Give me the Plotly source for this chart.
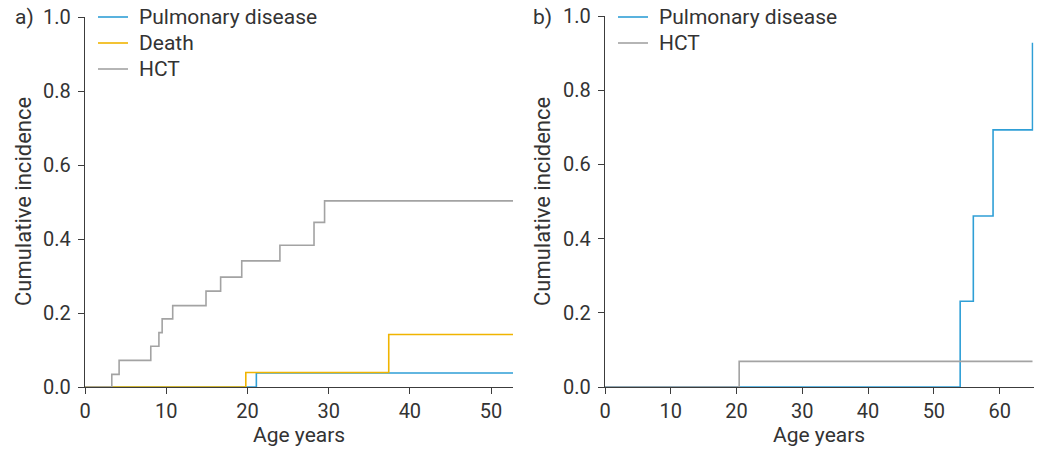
import plotly.graph_objects as go

# ---- data ----
# Panel a
a_pulm_x = [0, 21.1, 52.7]
a_pulm_y = [0, 0.038, 0.038]
a_death_x = [0, 19.8, 37.4, 52.7]
a_death_y = [0, 0.039, 0.142, 0.142]
a_hct_x = [0, 3.3, 4.2, 8.1, 9.1, 9.5, 10.8, 14.9, 16.7, 19.3, 24.0, 28.2, 29.5, 52.7]
a_hct_y = [0, 0.034, 0.072, 0.110, 0.147, 0.184, 0.220, 0.259, 0.297, 0.341, 0.383, 0.445, 0.503, 0.503]
# Panel b
b_pulm_x = [0, 54.0, 56.0, 59.0, 65.0]
b_pulm_y = [0, 0.231, 0.461, 0.693, 0.928]
b_hct_x = [0, 20.4, 65.0]
b_hct_y = [0, 0.069, 0.069]

series_names_a = ["Pulmonary disease", "Death", "HCT"]
series_names_b = ["Pulmonary disease", "HCT"]
x_ticks_a = [0, 10, 20, 30, 40, 50]
x_ticks_b = [0, 10, 20, 30, 40, 50, 60]
y_ticks = [0, 0.2, 0.4, 0.6, 0.8, 1.0]
x_title = "Age years"
y_title = "Cumulative incidence"
panel_labels = ["a)", "b)"]

BLUE = "#2f9fd6"
ORANGE = "#f0b400"
GRAY = "#a3a3a3"
AXIS = "#3c3c3c"
TEXT = "#333333"
FONT = "Roboto"
W, H = 1041, 451
TICK_SIZE = 20
TEXT_SIZE = 21

fig = go.Figure()

def add(x, y, name, color, xa, ya):
    fig.add_trace(go.Scatter(x=x, y=y, mode="lines", line=dict(color=color, width=1.6, shape="hv"),
                             name=name, xaxis=xa, yaxis=ya, showlegend=False))

colors_a = [BLUE, ORANGE, GRAY]
colors_b = [BLUE, GRAY]
add(a_pulm_x, a_pulm_y, series_names_a[0], colors_a[0], "x", "y")
add(a_death_x, a_death_y, series_names_a[1], colors_a[1], "x", "y")
add(a_hct_x, a_hct_y, series_names_a[2], colors_a[2], "x", "y")
add(b_pulm_x, b_pulm_y, series_names_b[0], colors_b[0], "x2", "y2")
add(b_hct_x, b_hct_y, series_names_b[1], colors_b[1], "x2", "y2")

def px_x(p):
    return p / W

def px_y(p):
    return 1 - p / H

common_x = dict(showgrid=False, zeroline=False, showline=True, linecolor=AXIS, linewidth=1.3,
                ticks="outside", ticklen=6, tickcolor=AXIS, tickwidth=1.3, automargin=False,
                tickfont=dict(family=FONT, size=TICK_SIZE, color=TEXT), layer="below traces")
common_y = dict(showgrid=False, zeroline=False, showline=True, linecolor=AXIS, linewidth=1.3,
                ticks="outside", ticklen=6, tickcolor=AXIS, tickwidth=1.3, range=[0, 1],
                tickvals=y_ticks, tickformat=".1f", layer="below traces", automargin=False,
                ticklabelstandoff=3,
                tickfont=dict(family=FONT, size=TICK_SIZE, color=TEXT))

def txt(text, x, y, angle=0, size=TEXT_SIZE, anchor="center"):
    return dict(text=text, x=px_x(x), y=px_y(y), xref="paper", yref="paper", showarrow=False,
                textangle=angle, font=dict(family=FONT, size=size, color=TEXT),
                xanchor=anchor, yanchor="middle")

annotations = [
    txt(panel_labels[0], 24, 17),
    txt(panel_labels[1], 542.5, 17),
    txt(x_title, 299, 435),
    txt(x_title, 818.5, 435),
    txt(y_title, 23, 202, -90, size=22),
    txt(y_title, 542, 202, -90, size=22),
]
shapes = []

# manual legends (line sample + label)
def legend(names, colors, x0, y0, step=26):
    for i, (n, c) in enumerate(zip(names, colors)):
        yy = y0 + i * step
        shapes.append(dict(type="line", xref="paper", yref="paper", x0=px_x(x0), x1=px_x(x0 + 30),
                           y0=px_y(yy), y1=px_y(yy), line=dict(color=c, width=1.6)))
        annotations.append(txt(n, x0 + 39, yy, anchor="left"))

legend(series_names_a, colors_a, 98, 17)
legend(series_names_b, colors_b, 618, 17)

fig.update_layout(
    width=W, height=H,
    margin=dict(l=0, r=0, t=0, b=0),
    paper_bgcolor="white", plot_bgcolor="white",
    xaxis=dict(common_x, domain=[px_x(85), px_x(513)], range=[0, 52.7], tickvals=x_ticks_a, anchor="y"),
    yaxis=dict(common_y, domain=[px_y(387), px_y(17)], anchor="x"),
    xaxis2=dict(common_x, domain=[px_x(605), px_x(1033.5)], range=[0, 65.15], tickvals=x_ticks_b, anchor="y2"),
    yaxis2=dict(common_y, domain=[px_y(387), px_y(16)], anchor="x2"),
    showlegend=False,
    annotations=annotations,
    shapes=shapes,
)

fig.write_html("out.html", config={"displayModeBar": False},
               post_script="document.body.style.margin='0';")
